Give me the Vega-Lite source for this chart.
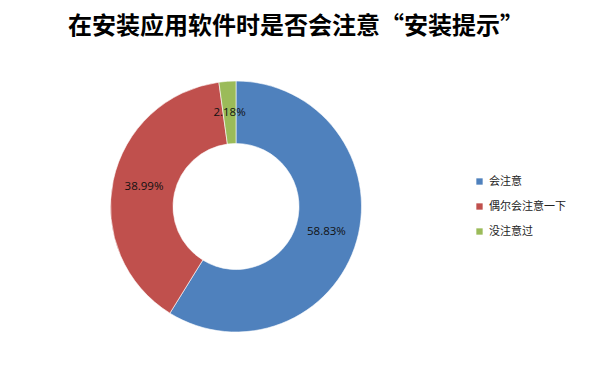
{
  "$schema": "https://vega.github.io/schema/vega-lite/v6.json",
  "autosize": {"type": "none"},
  "width": 472,
  "height": 251,
  "padding": {"top": 81, "left": 0, "right": 128, "bottom": 37},
  "background": "white",
  "title": {
    "text": "在安装应用软件时是否会注意“安装提示”",
    "font": "Noto Sans CJK SC",
    "fontSize": 24,
    "fontWeight": "bold",
    "color": "#000000",
    "anchor": "middle",
    "frame": "group",
    "dx": 60,
    "offset": 41
  },
  "data": {
    "values": [
      {"category": "会注意", "pct": 0.5883, "rank": 1},
      {"category": "偶尔会注意一下", "pct": 0.3899, "rank": 2},
      {"category": "没注意过", "pct": 0.0218, "rank": 3}
    ]
  },
  "encoding": {
    "theta": {"field": "pct", "type": "quantitative", "stack": true},
    "order": {"field": "rank", "type": "quantitative"}
  },
  "layer": [
    {
      "mark": {"type": "arc", "innerRadius": 63, "outerRadius": 125.5, "stroke": "white", "strokeWidth": 0.6},
      "encoding": {
        "color": {
          "field": "category",
          "type": "nominal",
          "sort": ["会注意", "偶尔会注意一下", "没注意过"],
          "scale": {"domain": ["会注意", "偶尔会注意一下", "没注意过"], "range": ["#4F81BD", "#C0504D", "#9BBB59"]},
          "legend": {
            "title": null,
            "orient": "none",
            "legendX": 474,
            "legendY": 95,
            "symbolType": "square",
            "symbolSize": 40,
            "symbolStrokeWidth": 0,
            "labelFont": "Noto Sans CJK SC",
            "labelFontSize": 11,
            "labelColor": "#222222",
            "labelOffset": 4,
            "rowPadding": 13
          }
        }
      }
    },
    {
      "mark": {"type": "text", "radius": 94, "font": "Open Sans", "fontSize": 11.5, "color": "#111111"},
      "encoding": {
        "text": {"field": "pct", "type": "quantitative", "format": ".2%"}
      }
    }
  ],
  "config": {"view": {"stroke": null}}
}
